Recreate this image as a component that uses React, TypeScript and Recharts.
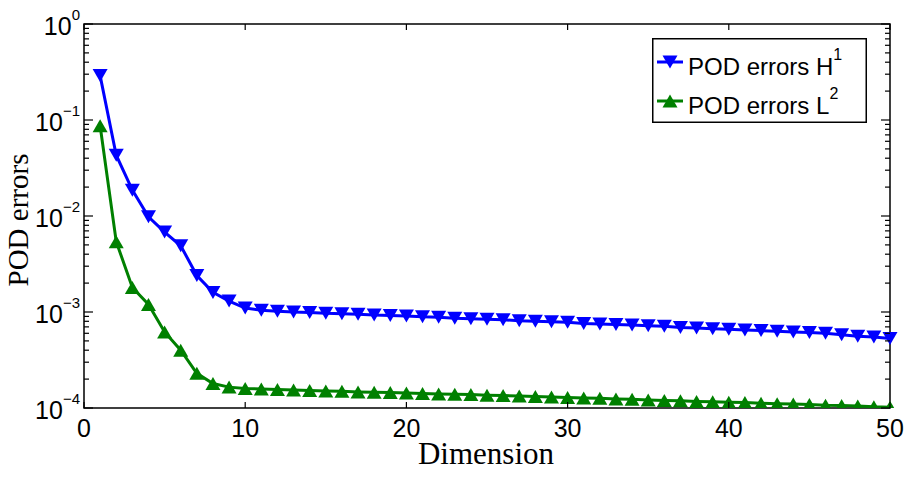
import { Legend, Line, LineChart, ReferenceArea, XAxis, YAxis } from 'recharts';

const dims = [
  1, 2, 3, 4, 5, 6, 7, 8, 9, 10, 11, 12, 13, 14, 15, 16, 17, 18, 19, 20, 21, 22, 23, 24, 25,
  26, 27, 28, 29, 30, 31, 32, 33, 34, 35, 36, 37, 38, 39, 40, 41, 42, 43, 44, 45, 46, 47, 48, 49, 50,
];

const h1Errors = [
  0.29, 0.043, 0.0186, 0.0098, 0.0068, 0.0049, 0.0024, 0.0016, 0.0013, 0.0011,
  1.04e-3, 1.02e-3, 1.0e-3, 9.9e-4, 9.7e-4, 9.6e-4, 9.5e-4, 9.3e-4, 9.2e-4, 9.1e-4,
  8.9e-4, 8.8e-4, 8.6e-4, 8.5e-4, 8.4e-4, 8.3e-4, 8.1e-4, 8.0e-4, 7.9e-4, 7.8e-4,
  7.6e-4, 7.5e-4, 7.4e-4, 7.3e-4, 7.2e-4, 7.1e-4, 6.9e-4, 6.8e-4, 6.7e-4, 6.6e-4,
  6.5e-4, 6.4e-4, 6.3e-4, 6.2e-4, 6.1e-4, 6.0e-4, 5.8e-4, 5.6e-4, 5.5e-4, 5.3e-4,
];

const l2Errors = [
  0.087, 0.0054, 0.0018, 0.0012, 6.2e-4, 4.0e-4, 2.3e-4, 1.8e-4, 1.65e-4, 1.6e-4,
  1.58e-4, 1.56e-4, 1.54e-4, 1.52e-4, 1.5e-4, 1.49e-4, 1.47e-4, 1.46e-4, 1.45e-4, 1.43e-4,
  1.42e-4, 1.4e-4, 1.39e-4, 1.38e-4, 1.36e-4, 1.35e-4, 1.33e-4, 1.32e-4, 1.3e-4, 1.29e-4,
  1.27e-4, 1.26e-4, 1.24e-4, 1.23e-4, 1.21e-4, 1.2e-4, 1.19e-4, 1.17e-4, 1.16e-4, 1.15e-4,
  1.14e-4, 1.12e-4, 1.11e-4, 1.1e-4, 1.09e-4, 1.07e-4, 1.06e-4, 1.05e-4, 1.03e-4, 1.02e-4,
];

const xTicks = [0, 10, 20, 30, 40, 50];
const yExponents = [-4, -3, -2, -1, 0];

const data = dims.map((d, i) => ({ dim: d, h1: h1Errors[i], l2: l2Errors[i] }));

// major decades plus the 2..9 minor ticks of a log axis
const yTicks: number[] = [];
yExponents.forEach((e) => {
  yTicks.push(Math.pow(10, e));
  if (e < 0) {
    for (let m = 2; m <= 9; m++) yTicks.push(Number((m * Math.pow(10, e)).toPrecision(3)));
  }
});

const W = 906;
const H = 477;
const PLOT_TOP = 24;
const PLOT_LEFT = 84;
const PLOT_RIGHT = 890;
const X_AXIS_H = 69;

const BLUE = '#0000ff';
const GREEN = '#008000';
const SANS = '"Liberation Sans", Arial, sans-serif';
const SERIF = '"Liberation Serif", "Times New Roman", serif';

const tri = (cx: number, cy: number, down: boolean, hw = 7.5, hh = 6.5) =>
  down
    ? `M${cx - hw},${cy - hh}L${cx + hw},${cy - hh}L${cx},${cy + hh}Z`
    : `M${cx - hw},${cy + hh}L${cx + hw},${cy + hh}L${cx},${cy - hh}Z`;

const XTick = ({ x, y, payload }: any) => {
  const v = payload.value;
  return (
    <g>
      <line x1={x} y1={y} x2={x} y2={y - 6} stroke="#000" strokeWidth={1.2} />
      <line x1={x} y1={PLOT_TOP} x2={x} y2={PLOT_TOP + 6} stroke="#000" strokeWidth={1.2} />
      <text x={x} y={y + 29} textAnchor="middle" fontSize={25} fontFamily={SANS} fill="#000">
        {v}
      </text>
    </g>
  );
};

const YTick = ({ x, y, payload }: any) => {
  const v: number = payload.value;
  const e = Math.round(Math.log10(v));
  const major = Math.abs(Math.pow(10, e) - v) < v * 1e-6;
  const len = major ? 9 : 5;
  return (
    <g>
      <line x1={x} y1={y} x2={x + len} y2={y} stroke="#000" strokeWidth={1.2} />
      <line x1={PLOT_RIGHT} y1={y} x2={PLOT_RIGHT - len} y2={y} stroke="#000" strokeWidth={1.2} />
      {major && (
        <text x={x - 4} y={y + 11} textAnchor="end" fontFamily={SANS} fill="#000">
          <tspan fontSize={25}>10</tspan>
          <tspan fontSize={15} dy={-15}>
            {e === 0 ? '0' : `\u2212${-e}`}
          </tspan>
        </text>
      )}
    </g>
  );
};

const renderLegend = () => (
  <svg width={215} height={85} style={{ display: 'block' }}>
    <rect x={0.75} y={0.75} width={213.5} height={83.5} fill="#fff" stroke="#000" strokeWidth={1.5} />
    <line x1={5} y1={24} x2={31} y2={24} stroke={BLUE} strokeWidth={3} />
    <path d={tri(18, 24, true)} fill={BLUE} />
    <text x={36} y={37} fontSize={24} fontFamily={SANS} fill="#000">
      POD errors H<tspan fontSize={16} dy={-15}>1</tspan>
    </text>
    <line x1={5} y1={63} x2={31} y2={63} stroke={GREEN} strokeWidth={3} />
    <path d={tri(18, 63, false)} fill={GREEN} />
    <text x={36} y={76} fontSize={24} fontFamily={SANS} fill="#000">
      POD errors L<tspan fontSize={16} dy={-15}>2</tspan>
    </text>
  </svg>
);

export default function App() {
  return (
    <div style={{ position: 'absolute', left: 0, top: 0, width: W, height: H, background: '#fff' }}>
      <LineChart
        width={W}
        height={H}
        data={data}
        margin={{ top: PLOT_TOP, right: W - PLOT_RIGHT, bottom: 0, left: 0 }}>
        <XAxis
          dataKey="dim"
          type="number"
          domain={[0, 50]}
          ticks={xTicks}
          interval={0}
          height={X_AXIS_H}
          tickSize={0}
          tickMargin={0}
          tick={<XTick />}
          axisLine={false}
        />
        <YAxis
          type="number"
          scale="log"
          domain={[1e-4, 1]}
          allowDataOverflow
          ticks={yTicks}
          interval={0}
          width={PLOT_LEFT}
          tickSize={0}
          tickMargin={0}
          tick={<YTick />}
          axisLine={false}
        />
        <ReferenceArea
          x1={0}
          x2={50}
          y1={1e-4}
          y2={1}
          fill="none"
          fillOpacity={0}
          stroke="#000"
          strokeWidth={1.5}
          strokeOpacity={1}
        />
        <Line
          dataKey="h1"
          stroke={BLUE}
          strokeWidth={3}
          isAnimationActive={false}
          dot={(p: any) => <path key={`h1-${p.index}`} d={tri(p.cx, p.cy, true)} fill={BLUE} />}
        />
        <Line
          dataKey="l2"
          stroke={GREEN}
          strokeWidth={3}
          isAnimationActive={false}
          dot={(p: any) => <path key={`l2-${p.index}`} d={tri(p.cx, p.cy, false)} fill={GREEN} />}
        />
        <Legend
          layout="vertical"
          align="center"
          verticalAlign="middle"
          content={renderLegend}
          wrapperStyle={{ left: 652, top: 38, width: 215, height: 85 }}
        />
      </LineChart>
      <svg
        width={W}
        height={H}
        style={{ position: 'absolute', left: 0, top: 0, pointerEvents: 'none' }}>
        <text x={486} y={464} textAnchor="middle" fontSize={31} fontFamily={SERIF} fill="#000">
          Dimension
        </text>
        <text
          x={28}
          y={220}
          textAnchor="middle"
          fontSize={29}
          fontFamily={SERIF}
          fill="#000"
          transform="rotate(-90, 28, 220)">
          POD errors
        </text>
      </svg>
    </div>
  );
}
